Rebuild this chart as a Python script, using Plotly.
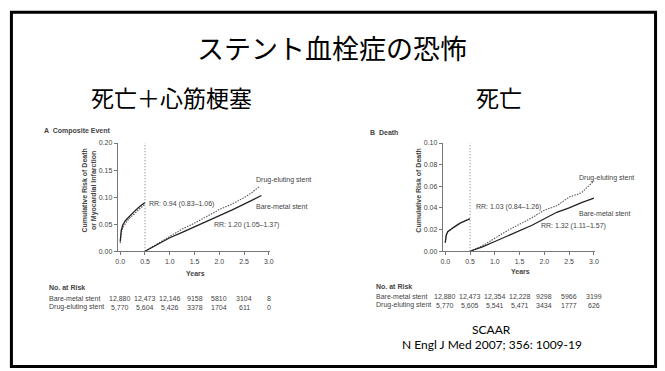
import plotly.graph_objects as go

W, H = 665, 371

# ---------------- data ----------------
years_ticks = [0.0, 0.5, 1.0, 1.5, 2.0, 2.5, 3.0]

# Panel A: composite of death or myocardial infarction
a_early_t = [0.0, 0.01, 0.02, 0.05, 0.1, 0.15, 0.2, 0.3, 0.4, 0.5]
a_early_bms = [0.018, 0.030, 0.038, 0.048, 0.056, 0.061, 0.066, 0.075, 0.083, 0.090]
a_early_des = [0.015, 0.026, 0.033, 0.043, 0.051, 0.057, 0.062, 0.071, 0.079, 0.087]
a_late_t_bms = [0.5, 0.75, 1.0, 1.25, 1.5, 1.75, 2.0, 2.25, 2.5, 2.75, 2.85]
a_late_bms = [0.0, 0.013, 0.025, 0.035, 0.045, 0.056, 0.066, 0.076, 0.087, 0.098, 0.103]
a_late_t_des = [0.5, 0.75, 1.0, 1.25, 1.5, 1.75, 2.0, 2.25, 2.5, 2.65, 2.8]
a_late_des = [0.0, 0.014, 0.027, 0.041, 0.052, 0.064, 0.077, 0.087, 0.099, 0.108, 0.119]

# Panel B: death
b_early_t = [0.0, 0.01, 0.02, 0.05, 0.1, 0.15, 0.2, 0.3, 0.4, 0.5]
b_early_bms = [0.008, 0.013, 0.015, 0.018, 0.020, 0.0215, 0.023, 0.026, 0.028, 0.030]
b_early_des = [0.008, 0.013, 0.015, 0.018, 0.020, 0.0215, 0.023, 0.026, 0.028, 0.030]
b_late_t = [0.5, 0.75, 1.0, 1.25, 1.5, 1.75, 2.0, 2.25, 2.5, 2.75, 3.0]
b_late_bms = [0.0, 0.004, 0.009, 0.014, 0.019, 0.024, 0.030, 0.036, 0.040, 0.045, 0.049]
b_late_des = [0.0, 0.005, 0.012, 0.019, 0.025, 0.031, 0.038, 0.042, 0.050, 0.054, 0.065]

# Numbers at risk
a_risk_bms = ["12,880", "12,473", "12,146", "9158", "5810", "3104", "8"]
a_risk_des = ["5,770", "5,604", "5,426", "3378", "1704", "611", "0"]
b_risk_bms = ["12,880", "12,473", "12,354", "12,228", "9298", "5966", "3199"]
b_risk_des = ["5,770", "5,605", "5,541", "5,471", "3434", "1777", "626"]

# ---------------- helpers ----------------
def px(v):
    return v / W

def py(v):
    return 1 - v / H

FIG_FONT = "Liberation Sans"
TXT = "#444"
BMS_LINE = dict(color="#222", width=1.3)
DES_LINE = dict(color="#555", width=1.1, dash="1.5px,1.2px")

fig = go.Figure()

def add_curve(t, v, line, xa, ya):
    fig.add_trace(go.Scatter(x=t, y=v, mode="lines", line=line,
                             xaxis=xa, yaxis=ya, showlegend=False,
                             hoverinfo="skip"))

add_curve(a_early_t, a_early_des, DES_LINE, "x", "y")
add_curve(a_early_t, a_early_bms, BMS_LINE, "x", "y")
add_curve(a_late_t_des, a_late_des, DES_LINE, "x", "y")
add_curve(a_late_t_bms, a_late_bms, BMS_LINE, "x", "y")

add_curve(b_early_t, b_early_des, DES_LINE, "x2", "y2")
add_curve(b_early_t, b_early_bms, BMS_LINE, "x2", "y2")
add_curve(b_late_t, b_late_des, DES_LINE, "x2", "y2")
add_curve(b_late_t, b_late_bms, BMS_LINE, "x2", "y2")

axis_common = dict(showgrid=False, zeroline=False, showline=True,
                   linecolor="#777", linewidth=1, ticks="outside",
                   ticklen=3, tickcolor="#777",
                   tickfont=dict(family=FIG_FONT, size=7, color=TXT))

x_rng = [-0.05, 3.02]
fig.update_layout(
    width=W, height=H,
    margin=dict(l=0, r=0, t=0, b=0),
    paper_bgcolor="white", plot_bgcolor="white",
    xaxis=dict(domain=[px(116.8), px(270.3)], range=x_rng,
               tickvals=years_ticks, tickformat=".1f", anchor="y",
               **axis_common),
    yaxis=dict(domain=[py(252), py(141.7)], range=[0, 0.2],
               tickvals=[0, 0.05, 0.10, 0.15, 0.20], tickformat=".2f",
               anchor="x", **axis_common),
    xaxis2=dict(domain=[px(444.8), px(598.3)], range=x_rng,
                tickvals=years_ticks, tickformat=".1f", anchor="y2",
                **axis_common),
    yaxis2=dict(domain=[py(252), py(141.7)], range=[0, 0.1],
                tickvals=[0, 0.02, 0.04, 0.06, 0.08, 0.10], tickformat=".2f",
                anchor="x2", **axis_common),
)

# landmark at 6 months
for xr, yr, top in (("x", "y", 0.2), ("x2", "y2", 0.1)):
    fig.add_shape(type="line", xref=xr, yref=yr, x0=0.5, x1=0.5, y0=0, y1=top,
                  line=dict(color="#777", width=1, dash="1px,2px"))

ann = []

def text(x, y, s, size=7, xref="paper", yref="paper", xanchor="left",
         bold=False, color=TXT, family=FIG_FONT, angle=0, yanchor="middle"):
    if bold:
        s = "<b>" + s + "</b>"
    ann.append(dict(x=x, y=y, xref=xref, yref=yref, text=s, showarrow=False,
                    xanchor=xanchor, yanchor=yanchor, textangle=angle,
                    font=dict(family=family, size=size, color=color)))

# curve labels, panel A
text(2.70, 0.131, "Drug-eluting stent", xref="x", yref="y")
text(2.70, 0.083, "Bare-metal stent", xref="x", yref="y")
text(1.85, 0.049, "RR: 1.20 (1.05–1.37)", xref="x", yref="y")
text(0.55, 0.087, "RR: 0.94 (0.83–1.06)", xref="x", yref="y")
# curve labels, panel B
text(2.65, 0.068, "Drug-eluting stent", xref="x2", yref="y2")
text(2.65, 0.035, "Bare-metal stent", xref="x2", yref="y2")
text(1.89, 0.023, "RR: 1.32 (1.11–1.57)", xref="x2", yref="y2")
text(0.57, 0.041, "RR: 1.03 (0.84–1.26)", xref="x2", yref="y2")

# panel headings
text(px(40), py(129), "A  Composite Event", bold=True)
text(px(369), py(131), "B  Death", bold=True)

# axis titles
text(px(88), py(190), "Cumulative Risk of Death<br>or Myocardial Infarction",
     bold=True, angle=-90, xanchor="center")
text(px(420), py(190), "Cumulative Risk of Death", bold=True, angle=-90,
     xanchor="center")
text(px(195), py(275), "Years", bold=True, xanchor="center")
text(px(523), py(273), "Years", bold=True, xanchor="center")

# numbers at risk tables
text(px(45), py(289), "No. at Risk", bold=True)
text(px(45), py(300), "Bare-metal stent")
text(px(45), py(309), "Drug-eluting stent")
for t, b, d in zip(years_ticks, a_risk_bms, a_risk_des):
    text(t, py(300), b, xref="x", xanchor="center")
    text(t, py(309), d, xref="x", xanchor="center")

text(px(375), py(288), "No. at Risk", bold=True)
text(px(375), py(298), "Bare-metal stent")
text(px(375), py(307), "Drug-eluting stent")
for t, b, d in zip(years_ticks, b_risk_bms, b_risk_des):
    text(t, py(298), b, xref="x2", xanchor="center")
    text(t, py(307), d, xref="x2", xanchor="center")

# slide text
JP = "Noto Sans CJK JP"
text(0.5, py(44), "ステント血栓症の恐怖", size=27, xanchor="center",
     color="black", family=JP)
text(px(171), py(95), "死亡＋心筋梗塞", size=23, xanchor="center",
     color="black", family=JP)
text(px(502), py(95), "死亡", size=23, xanchor="center",
     color="black", family=JP)
text(px(494), py(332), "SCAAR", size=12, xanchor="center",
     color="black", family="Lato")
text(px(494), py(347), "N Engl J Med 2007; 356: 1009-19", size=12,
     xanchor="center", color="black", family="Lato")

fig.update_layout(annotations=ann)

# slide frame
fig.add_shape(type="rect", xref="paper", yref="paper",
              x0=px(9.5), x1=px(659.5), y0=py(369.5), y1=py(8.5),
              line=dict(color="black", width=3), layer="above")

fig.write_html("out.html")
